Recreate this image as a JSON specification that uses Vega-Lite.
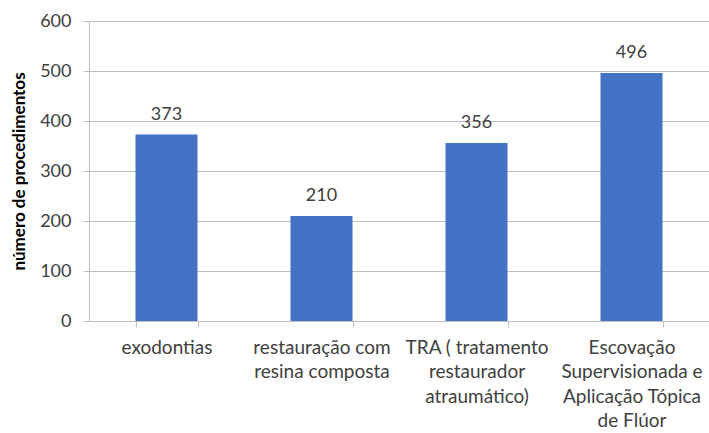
{
  "$schema": "https://vega.github.io/schema/vega-lite/v6.json",
  "autosize": "none",
  "width": 620,
  "height": 300,
  "padding": {"left": 89, "top": 21, "right": 0, "bottom": 112},
  "background": "white",
  "config": {"view": {"stroke": null}, "font": "Lato"},
  "data": {"values": [
    {"procedimento": "exodontias", "n": 373},
    {"procedimento": "restauração com resina composta", "n": 210},
    {"procedimento": "TRA ( tratamento restaurador atraumático)", "n": 356},
    {"procedimento": "Escovação Supervisionada e Aplicação Tópica de Flúor", "n": 496}
  ]},
  "encoding": {
    "x": {"field": "procedimento", "type": "nominal", "sort": null,
      "scale": {"paddingInner": 0.6, "paddingOuter": 0.3},
      "axis": {"title": null, "labelAngle": 0, "labelFontSize": 19, "labelColor": "#404040",
        "labelFont": "Lato",
        "labelLineHeight": 24.5, "labelPadding": 11, "labelLimit": 200,
        "domainColor": "#bfbfbf", "tickColor": "#bfbfbf", "tickSize": 6, "tickBand": "extent",
        "labelExpr": "datum.value == 'restauração com resina composta' ? ['restauração com', 'resina composta'] : datum.value == 'TRA ( tratamento restaurador atraumático)' ? ['TRA ( tratamento', 'restaurador', 'atraumático)'] : datum.value == 'Escovação Supervisionada e Aplicação Tópica de Flúor' ? ['Escovação', 'Supervisionada e', 'Aplicação Tópica', 'de Flúor'] : datum.value"}},
    "y": {"field": "n", "type": "quantitative",
      "scale": {"domain": [0, 600], "nice": false},
      "axis": {"title": "número de procedimentos", "titleFontSize": 17, "titleFontWeight": "bold",
        "titleColor": "#000000", "titleFont": "Lato", "titlePadding": 11,
        "values": [0, 100, 200, 300, 400, 500, 600],
        "labelFontSize": 18, "labelColor": "#404040", "labelPadding": 12, "labelFont": "Lato",
        "gridColor": "#bfbfbf", "domainColor": "#bfbfbf", "tickColor": "#bfbfbf", "tickSize": 6}}
  },
  "layer": [
    {"mark": {"type": "bar", "color": "#4472C4"}},
    {"mark": {"type": "text", "baseline": "alphabetic", "dy": -15, "fontSize": 18, "color": "#404040", "font": "Lato"},
     "encoding": {"text": {"field": "n", "type": "quantitative"}}}
  ]
}
